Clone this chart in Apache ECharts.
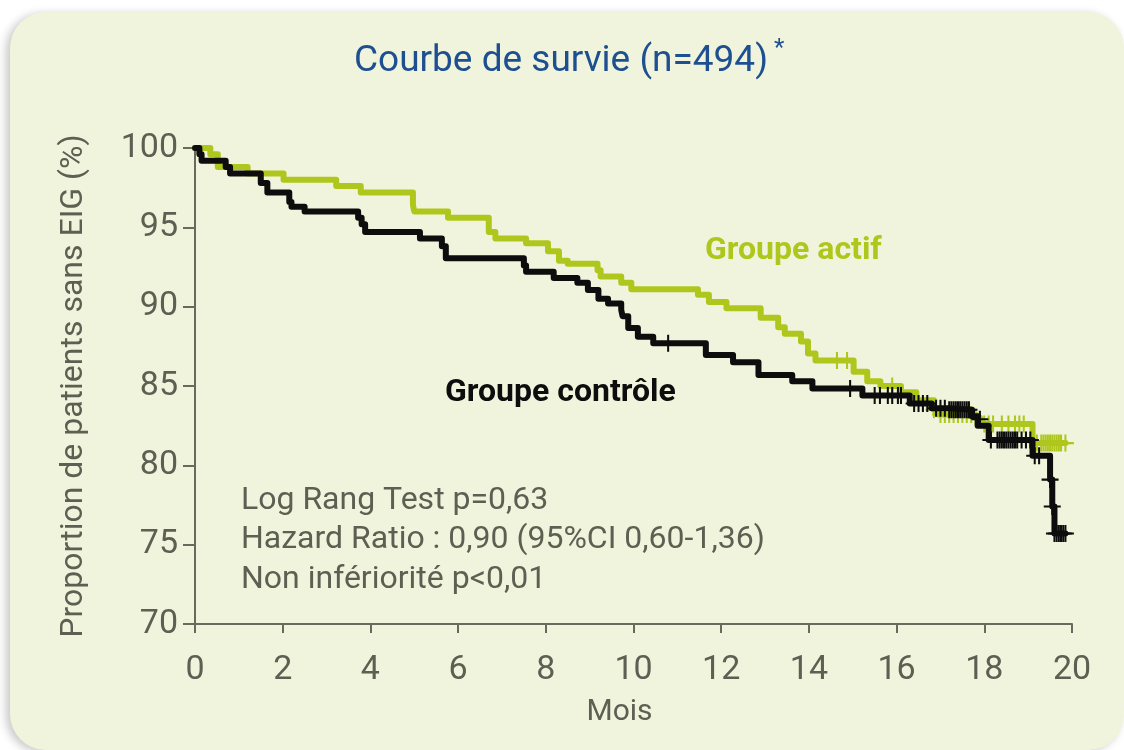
<!DOCTYPE html>
<html>
<head>
<meta charset="utf-8">
<script src="https://cdn.jsdelivr.net/npm/echarts@6/dist/echarts.min.js"></script>
<style>
    html, body { margin: 0; padding: 0; background: #ffffff; }
    #chart { width: 1124px; height: 750px; }
</style>
</head>
<body>
<div id="chart"></div>
<script>
// axes
var xTicks = [0, 2, 4, 6, 8, 10, 12, 14, 16, 18, 20];
var yTicks = [70, 75, 80, 85, 90, 95, 100];

// Groupe actif : [mois, % sans EIG]
var actifSteps = [
    [0, 100], [0.35, 99.6], [0.52, 98.8], [1.2, 98.4], [2.02, 98.0], [3.22, 97.6],
    [3.78, 97.2], [4.97, 96.4], [5.0, 96.0], [5.77, 95.6], [6.7, 94.7], [6.85, 94.3],
    [7.55, 94.0], [8.05, 93.5], [8.3, 92.9], [8.5, 92.7], [9.18, 92.3], [9.25, 91.9],
    [9.72, 91.5], [9.95, 91.1], [11.47, 90.75], [11.72, 90.3], [12.12, 89.9],
    [12.9, 89.3], [13.3, 88.7], [13.45, 88.3], [13.82, 87.8], [13.98, 87.05],
    [14.15, 86.6], [15.02, 85.9], [15.33, 85.3], [15.63, 85.0], [16.1, 84.6],
    [16.45, 84.1], [16.85, 83.5], [16.95, 83.2], [17.8, 83.0], [17.9, 82.6],
    [19.1, 81.4], [19.85, 81.4]
];
var actifCensor = [
    [14.64, 86.6], [14.87, 86.6], [15.9, 85.0], [16.85, 83.5], [17.0, 83.2], [17.1, 83.2],
    [17.2, 83.2], [17.3, 83.2], [17.4, 83.2], [17.5, 83.2], [17.6, 83.2], [17.7, 83.2],
    [17.8, 83.0], [18.0, 82.6], [18.1, 82.6], [18.2, 82.6], [18.4, 82.6], [18.55, 82.6],
    [18.7, 82.6], [18.8, 82.6], [18.9, 82.6], [19.2, 81.4], [19.3, 81.4], [19.35, 81.4],
    [19.4, 81.4], [19.45, 81.4], [19.5, 81.4], [19.55, 81.4], [19.6, 81.4], [19.65, 81.4],
    [19.7, 81.4], [19.75, 81.4], [19.85, 81.4]
];

// Groupe contrôle
var controleSteps = [
    [0, 100], [0.1, 99.6], [0.15, 99.2], [0.7, 98.8], [0.8, 98.4], [1.5, 97.8],
    [1.65, 97.2], [2.15, 96.6], [2.2, 96.3], [2.5, 96.0], [3.72, 95.6], [3.8, 95.2],
    [3.88, 94.7], [5.13, 94.3], [5.63, 93.8], [5.72, 93.05], [7.5, 92.6], [7.55, 92.2],
    [8.18, 91.8], [8.72, 91.5], [8.96, 91.05], [9.2, 90.5], [9.42, 90.2], [9.72, 89.8],
    [9.75, 89.4], [9.88, 88.65], [10.1, 88.1], [10.45, 87.7], [11.65, 86.95],
    [12.27, 86.5], [12.85, 85.7], [13.62, 85.3], [14.08, 84.85], [15.22, 84.4],
    [16.3, 83.9], [16.8, 83.6], [17.2, 83.5], [17.72, 83.1], [17.85, 82.5],
    [18.1, 81.6], [19.1, 80.6], [19.5, 79.1], [19.55, 77.4], [19.6, 75.7], [19.85, 75.7]
];
var controleCensor = [
    [10.79, 87.7], [14.94, 84.85], [15.5, 84.4], [15.62, 84.4], [15.8, 84.4], [15.9, 84.4],
    [16.03, 84.4], [16.1, 84.4], [16.4, 83.9], [16.5, 83.9], [16.6, 83.9], [16.7, 83.9],
    [16.9, 83.6], [17.0, 83.6], [17.1, 83.6], [17.2, 83.5], [17.25, 83.5], [17.3, 83.5],
    [17.35, 83.5], [17.4, 83.5], [17.45, 83.5], [17.5, 83.5], [17.55, 83.5], [17.6, 83.5],
    [17.65, 83.5], [17.9, 82.9], [18.15, 81.6], [18.3, 81.6], [18.35, 81.6], [18.4, 81.6],
    [18.45, 81.6], [18.5, 81.6], [18.55, 81.6], [18.6, 81.6], [18.65, 81.6], [18.7, 81.6],
    [18.75, 81.6], [18.85, 81.6], [18.95, 81.6], [19.05, 81.6], [19.15, 80.6], [19.25, 80.6],
    [19.5, 79.1], [19.55, 77.4], [19.6, 75.7], [19.65, 75.7], [19.7, 75.7], [19.75, 75.7],
    [19.8, 75.7], [19.85, 75.7]
];

var statsLines = ['Log Rang Test p=0,63', 'Hazard Ratio : 0,90 (95%CI 0,60-1,36)', 'Non infériorité p<0,01'];

var green = '#afc71d';
var black = '#0d0d0d';
var grey = '#5c5f52';
var axisGrey = '#676a5c';
var font = 'Roboto, "DejaVu Sans", sans-serif';
// croix de censure
var plus = 'path://M4.4,0h1.2v4.4h4.4v1.2h-4.4v4.4h-1.2v-4.4h-4.4v-1.2h4.4z';

var myChart = echarts.init(document.getElementById('chart'));

var option = {
    animation: false,
    textStyle: { fontFamily: font },
    grid: { left: 195, right: 52, top: 148, bottom: 126 },
    graphic: [
        {
            type: 'rect', z: -10,
            shape: { x: 10, y: 12, width: 1114, height: 738, r: 36 },
            style: { fill: '#f0f4dc', shadowBlur: 10, shadowOffsetX: -4, shadowOffsetY: 2, shadowColor: 'rgba(0,0,0,0.22)' }
        },
        {
            type: 'text', x: 561, y: 62,
            style: { text: 'Courbe de survie (n=494)', fill: '#1d4f91', font: '37px ' + font,
                align: 'center', verticalAlign: 'middle' }
        },
        {
            type: 'text', left: 774, top: 37,
            style: { text: '*', fill: '#1d4f91', font: '24px ' + font }
        },
        {
            type: 'text', x: 705, y: 251,
            style: { text: 'Groupe actif', fill: green, font: 'bold 32px ' + font, verticalAlign: 'middle' }
        },
        {
            type: 'text', x: 445, y: 393,
            style: { text: 'Groupe contrôle', fill: black, font: 'bold 32px ' + font, verticalAlign: 'middle' }
        },
        {
            type: 'text', x: 241, y: 481,
            style: { text: statsLines.join('\n'), fill: grey, font: '32px ' + font, lineHeight: 39.5 }
        }
    ],
    xAxis: {
        type: 'value',
        min: 0, max: 20, interval: 2,
        name: 'Mois',
        nameLocation: 'middle',
        nameGap: 73,
        nameTextStyle: { color: grey, fontSize: 30, padding: [0, 28, 0, 0] },
        axisLine: { show: true, lineStyle: { color: axisGrey, width: 2 } },
        axisTick: { show: true, length: 9, lineStyle: { color: axisGrey, width: 2 } },
        axisLabel: { color: grey, fontSize: 34, margin: 29,
            customValues: xTicks },
        splitLine: { show: false }
    },
    yAxis: {
        type: 'value',
        min: 70, max: 100, interval: 5,
        name: 'Proportion de patients sans EIG (%)',
        nameLocation: 'middle',
        nameGap: 105,
        nameTextStyle: { color: grey, fontSize: 32 },
        axisLine: { show: true, lineStyle: { color: axisGrey, width: 2 } },
        axisTick: { show: true, length: 12, lineStyle: { color: axisGrey, width: 2 } },
        axisLabel: { color: grey, fontSize: 34, margin: 17,
            customValues: yTicks },
        splitLine: { show: false }
    },
    series: [
        {
            name: 'Groupe actif', type: 'line', step: 'end',
            showSymbol: false, data: actifSteps,
            lineStyle: { color: green, width: 6, cap: 'round', join: 'round' },
            z: 2
        },
        {
            name: 'Groupe actif censure', type: 'scatter',
            symbol: plus, symbolSize: [17, 17], data: actifCensor,
            itemStyle: { color: green, opacity: 1 },
            z: 3
        },
        {
            name: 'Groupe contrôle', type: 'line', step: 'end',
            showSymbol: false, data: controleSteps,
            lineStyle: { color: black, width: 6, cap: 'round', join: 'round' },
            z: 4
        },
        {
            name: 'Groupe contrôle censure', type: 'scatter',
            symbol: plus, symbolSize: [17, 17], data: controleCensor,
            itemStyle: { color: black, opacity: 1 },
            z: 5
        }
    ]
};

myChart.setOption(option);

window.addEventListener('resize', function () {
    myChart.resize();
});
</script>
</body>
</html>
